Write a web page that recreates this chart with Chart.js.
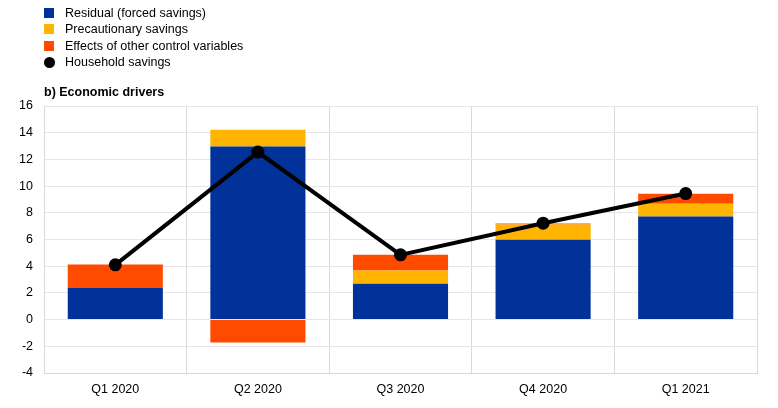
<!DOCTYPE html>
<html>
<head>
<meta charset="utf-8">
<script src="https://cdn.jsdelivr.net/npm/chart.js@4/dist/chart.umd.min.js"></script>
<style>
  body{margin:0;background:#fff;font-family:"Liberation Sans",Arial,sans-serif;}
  #wrap{position:relative;width:778px;height:408px;}
  #legend{position:absolute;left:44px;top:5px;font-size:12.5px;color:#000;}
  .item{height:16.3px;line-height:16px;display:flex;align-items:center;}
  .sw{width:10px;height:10px;margin-right:11px;}
  .dot{width:11px;height:11px;border-radius:50%;background:#000;margin-right:10px;}
  #title{position:absolute;left:44px;top:85px;font-size:12.5px;font-weight:bold;}
</style>
</head>
<body>
<div id="wrap">
  <canvas id="myChart" width="778" height="408"></canvas>
  <div id="legend"></div>
  <div id="title">b) Economic drivers</div>
</div>
<script>
// chart values
let quarters=['Q1 2020','Q2 2020','Q3 2020','Q4 2020','Q1 2021'];
let residual=[2.36,12.97,2.69,5.98,7.72];
let precautionary=[0,1.25,0.99,1.14,0.95];
let other_controls=[1.77,-1.72,1.18,0.08,0.75];
let household_savings=[4.1,12.55,4.85,7.22,9.44];

let legend_names=['Residual (forced savings)','Precautionary savings','Effects of other control variables','Household savings'];
let bar_colors=['#003299','#FFB400','#FF4B00'];

// legend drawn as html so it can be stacked vertically
let legendBox=document.getElementById('legend');
legend_names.forEach((name,i)=>{
    let row=document.createElement('div');
    row.className='item';
    let mark=document.createElement('span');
    if(i<3){
        mark.className='sw';
        mark.style.background=bar_colors[i];
    }else{
        mark.className='dot';
    }
    row.appendChild(mark);
    row.appendChild(document.createTextNode(name));
    legendBox.appendChild(row);
});

const ctx=document.getElementById('myChart').getContext('2d');
const myChart=new Chart(ctx,{
    type:'bar',
    data:{
        labels:quarters,
        datasets:[{
            type:'line',
            label:legend_names[3],
            data:household_savings,
            borderColor:'#000',
            backgroundColor:'#000',
            borderWidth:4,
            pointRadius:4.5,
            pointHoverRadius:4.5,
            stack:'line',
            order:0
        },{
            label:legend_names[0],
            data:residual,
            backgroundColor:bar_colors[0],
            stack:'bars',
            order:1
        },{
            label:legend_names[1],
            data:precautionary,
            backgroundColor:bar_colors[1],
            stack:'bars',
            order:1
        },{
            label:legend_names[2],
            data:other_controls,
            backgroundColor:bar_colors[2],
            stack:'bars',
            order:1
        }]
    },
    options:{
        responsive:false,
        animation:false,
        barPercentage:0.667,
        categoryPercentage:1,
        layout:{padding:{top:106,right:21,left:0,bottom:0}},
        plugins:{legend:{display:false},tooltip:{enabled:false}},
        scales:{
            x:{
                stacked:true,
                grid:{color:'#d9d9d9',offset:true,drawTicks:false},
                border:{color:'#d9d9d9'},
                ticks:{color:'#000',font:{family:'Liberation Sans',size:12.5},padding:9},
                afterFit:(s)=>{s.height=35;}
            },
            y:{
                stacked:true,
                min:-4,
                max:16,
                grid:{color:'#e6e6e6',drawTicks:false},
                border:{color:'#d9d9d9'},
                ticks:{stepSize:2,color:'#000',font:{family:'Liberation Sans',size:12.5},padding:11},
                afterFit:(s)=>{s.width=44;}
            }
        }
    }
});
</script>
</body>
</html>
